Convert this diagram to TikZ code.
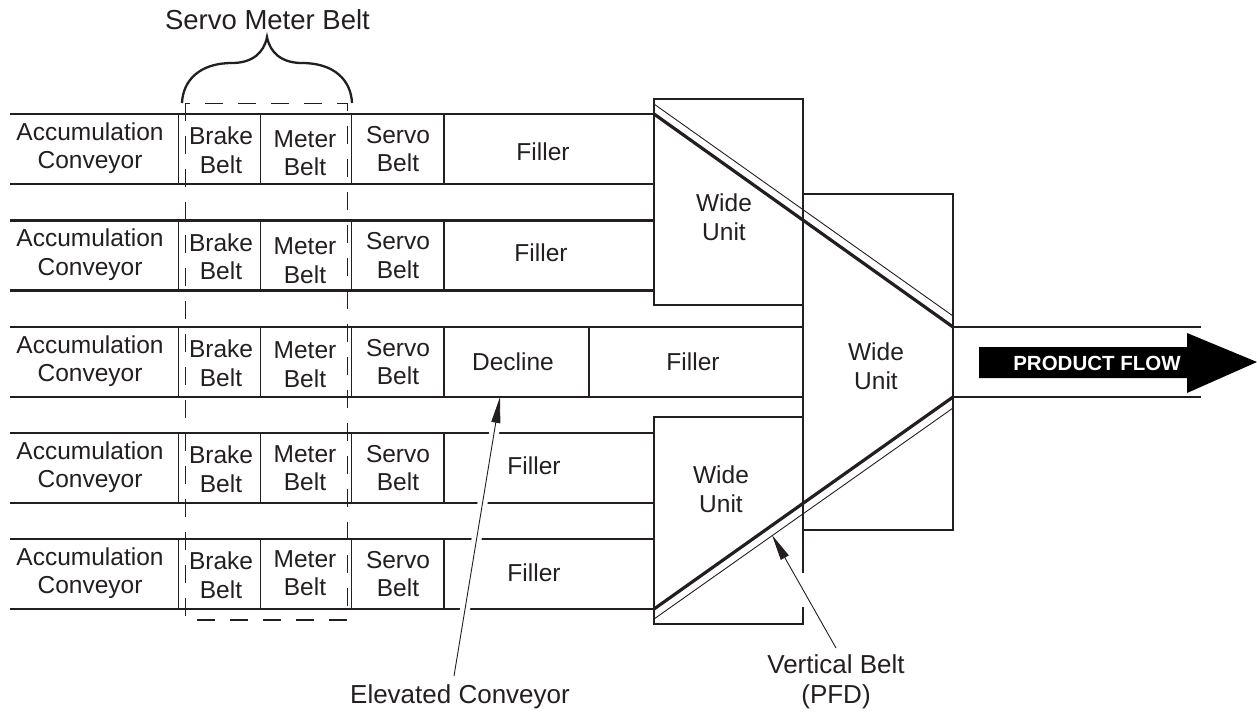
\documentclass[tikz,border=0pt]{standalone}
\usepackage{fontspec}
\setmainfont{Liberation Sans}
\usetikzlibrary{arrows.meta}
\definecolor{ink}{HTML}{231F20}
\begin{document}
\begin{tikzpicture}[x=1pt,y=-1pt,
  conv/.style={draw=ink, line width=2.6pt},
  div/.style={draw=ink, line width=1.2pt},
  unit/.style={draw=ink, line width=2.6pt},
  thickbelt/.style={draw=ink, line width=3.2pt},
  thinbelt/.style={draw=ink, line width=0.9pt},
  dashbox/.style={draw=ink, line width=1.1pt, dash pattern=on 18pt off 15pt},
  txt/.style={font=\fontsize{24.5}{28.5}\selectfont, align=center, text=ink, inner sep=0pt},
  lbl/.style={font=\fontsize{26}{30}\selectfont, align=center, text=ink, inner sep=0pt},
  ptr/.style={draw=ink, line width=0.9pt, -{Triangle[length=26pt,width=9pt]}},
  halo/.style={draw=white, line width=10pt},
  pf/.style={font=\fontsize{20.5}{24}\selectfont\bfseries, text=white, inner sep=0pt},
]
\useasboundingbox (0,0) rectangle (1257,713);

% ---- conveyor rows 1,2,4,5 ----
\foreach \t in {114,220.5,433,539}{
  \draw[conv] (10,\t) -- (654,\t);
  \draw[conv] (10,\t+70) -- (654,\t+70);
  \foreach \x in {178.5,260.5,351.5,444} \draw[div] (\x,\t) -- (\x,\t+70);
}
% ---- conveyor row 3 ----
\draw[conv] (10,327) -- (803,327);
\draw[conv] (10,397) -- (803,397);
\foreach \x in {178.5,260.5,351.5,444,589} \draw[div] (\x,327) -- (\x,397);

% ---- texts in rows ----
\foreach \r/\y/\m in {1/149/4,2/255.5/5,3/362/2.5,4/468/0,5/574/-1}{
  \node[txt] (acc\r) at (90,\y-1) {Accumulation\\Conveyor};
  \node[txt] (brk\r) at (221,\y+1) {Brake\\Belt};
  \node[txt] (met\r) at (305,\y+\m) {Meter\\Belt};
  \node[txt] (srv\r) at (398,\y) {Servo\\Belt};
}
\node[txt] (fil1) at (543,152) {Filler};
\node[txt] (fil2) at (541,253) {Filler};
\node[txt] (fil4) at (534,466) {Filler};
\node[txt] (fil5) at (534,573) {Filler};
\node[txt] (dec3) at (513,362) {Decline};
\node[txt] (fil3) at (693,362) {Filler};

% ---- servo meter belt dashed box and brace ----
\draw[dashbox] (185.7,103.3) rectangle (347.7,620);
\draw[draw=ink, line width=2.3pt] (182,103) .. controls (183,80) and (200,63) .. (232,63)
  .. controls (252,63) and (264,53) .. (267,37)
  .. controls (270,53) and (282,63) .. (302,63)
  .. controls (334,63) and (351,80) .. (352,103);
\node[font=\fontsize{27.5}{32}\selectfont, text=ink, inner sep=0pt] (smb) at (267.5,20) {Servo Meter Belt};

% ---- wide units ----
\draw[unit] (654,99) rectangle (803,305);
\draw[unit] (803,194) rectangle (953,530);
\draw[unit] (803,573) -- (803,417) -- (654,417) -- (654,624) -- (803,624) -- (803,607);
\node[txt] (wu1) at (724,217) {Wide\\Unit};
\node[txt] (wu2) at (876,366) {Wide\\Unit};
\node[txt] (wu3) at (721,489) {Wide\\Unit};

% ---- vertical belts (PFD) ----
\draw[thickbelt] (654,114) -- (953,327);
\draw[thinbelt] (654,104) -- (953,316);
\draw[thickbelt] (654,609) -- (953,397);
\draw[thinbelt] (654,619) -- (953,408);

% ---- exit conveyor ----
\draw[conv] (953,327) -- (1201,327);
\draw[conv] (953,397) -- (1201,397);

% ---- product flow arrow ----
\fill[black] (979,347) -- (1187,347) -- (1187,333) -- (1257,362) -- (1187,393) -- (1187,378) -- (979,378) -- cycle;
\node[pf] (pflow) at (1097,363) {PRODUCT FLOW};

% ---- pointer labels ----
\coordinate (elevtip) at (500,397);
\coordinate (elevtail) at (454,676);
\node[lbl] (elevlbl) at (460,696.5) {Elevated Conveyor};
\draw[halo, shorten >=32pt] (elevtail) -- (elevtip);
\draw[ptr] (elevtail) -- (elevtip);

\coordinate (vbtip) at (772,535);
\coordinate (vbtail) at (836,648);
\node[lbl] (vblbl) at (836,682) {Vertical Belt\\(PFD)};
\draw[ptr] (vbtail) -- (vbtip);
\end{tikzpicture}
\end{document}
